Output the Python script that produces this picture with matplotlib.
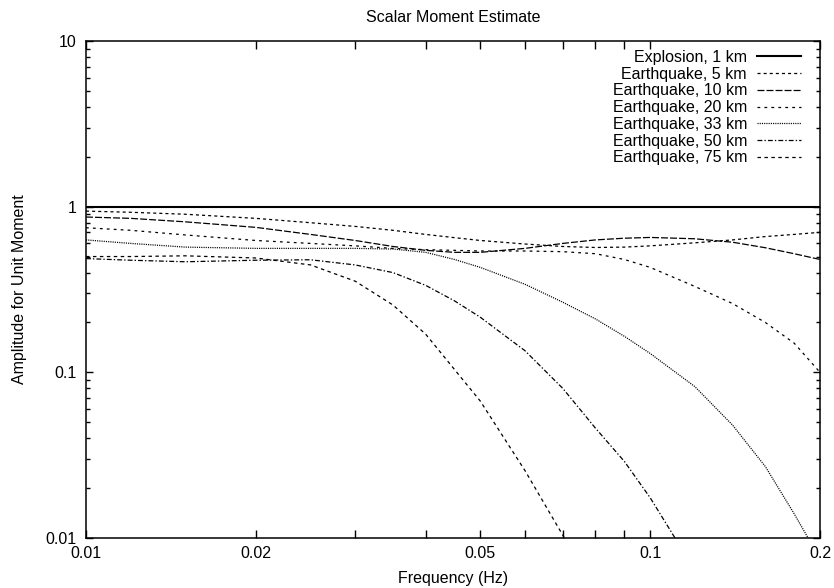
import matplotlib
matplotlib.use("Agg")
import matplotlib.pyplot as plt
from matplotlib.ticker import FixedLocator, NullFormatter

plt.rcParams["font.family"] = ["Liberation Sans", "DejaVu Sans"]
plt.rcParams["font.size"] = 11.5
plt.rcParams["lines.scale_dashes"] = False

# frequency grid (Hz)
freq = [0.01, 0.012, 0.015, 0.02, 0.025, 0.03, 0.035, 0.04, 0.045, 0.05,
        0.06, 0.07, 0.08, 0.09, 0.1, 0.12, 0.14, 0.16, 0.18, 0.2]

explosion_1km = [1.0] * len(freq)
eq_5km = [0.94, 0.925, 0.90, 0.85, 0.80, 0.76, 0.72, 0.68, 0.65, 0.625,
          0.595, 0.575, 0.567, 0.57, 0.58, 0.605, 0.63, 0.66, 0.68, 0.70]
eq_10km = [0.866, 0.85, 0.81, 0.75, 0.68, 0.625, 0.575, 0.545, 0.53, 0.53,
           0.56, 0.60, 0.63, 0.645, 0.652, 0.64, 0.61, 0.565, 0.52, 0.48]
eq_20km = [0.746, 0.72, 0.675, 0.625, 0.60, 0.58, 0.56, 0.55, 0.545, 0.54,
           0.54, 0.535, 0.52, 0.48, 0.43, 0.33, 0.26, 0.20, 0.15, 0.10]
eq_33km = [0.63, 0.60, 0.57, 0.56, 0.56, 0.56, 0.555, 0.53, 0.48, 0.43,
           0.34, 0.265, 0.21, 0.165, 0.13, 0.082, 0.048, 0.027, 0.014, 0.0075]
eq_50km = [0.486, 0.475, 0.465, 0.475, 0.478, 0.445, 0.40, 0.335, 0.27, 0.215,
           0.135, 0.08, 0.046, 0.029, 0.0175, 0.0064]
eq_75km = [0.50, 0.50, 0.505, 0.49, 0.445, 0.355, 0.255, 0.17, 0.104, 0.067,
           0.0255, 0.0104, 0.0048]

labels = ["Explosion, 1 km", "Earthquake, 5 km", "Earthquake, 10 km",
          "Earthquake, 20 km", "Earthquake, 33 km", "Earthquake, 50 km",
          "Earthquake, 75 km"]
series = [explosion_1km, eq_5km, eq_10km, eq_20km, eq_33km, eq_50km, eq_75km]
styles = ["-", (0, (2.2, 2.2)), (0, (5, 1.5)), (0, (2, 3)), (0, (0.8, 0.8)),
          (0, (3.5, 1.5, 1, 1.5)), (0, (2.5, 2.5))]
widths = [1.5, 0.9, 0.9, 0.9, 0.9, 0.9, 0.9]

xticks = [0.01, 0.02, 0.05, 0.1, 0.2]
xtick_labels = ["0.01", "0.02", "0.05", "0.1", "0.2"]
xminor = [0.03, 0.04, 0.06, 0.07, 0.08, 0.09]
yticks = [0.01, 0.1, 1, 10]
ytick_labels = ["0.01", "0.1", "1", "10"]

fig = plt.figure(figsize=(8.34, 5.88), dpi=100)
ax = fig.add_axes([86 / 834, 50 / 588, 734 / 834, 497 / 588])

for vals, lab, ls, lw in zip(series, labels, styles, widths):
    ax.plot(freq[:len(vals)], vals, color="black", linestyle=ls, linewidth=lw, label=lab)

ax.set_xscale("log")
ax.set_yscale("log")
ax.set_xlim(0.01, 0.2)
ax.set_ylim(0.01, 10)

ax.xaxis.set_major_locator(FixedLocator(xticks))
ax.set_xticklabels(xtick_labels)
ax.xaxis.set_minor_locator(FixedLocator(xminor))
ax.xaxis.set_minor_formatter(NullFormatter())
ax.yaxis.set_major_locator(FixedLocator(yticks))
ax.set_yticklabels(ytick_labels)

ax.tick_params(axis="both", which="both", direction="in", top=True, right=True,
               width=1.0, color="black")
ax.tick_params(axis="x", which="both", length=5.5, pad=6)
ax.tick_params(axis="y", which="major", length=5.0, pad=6.5)
ax.tick_params(axis="y", which="minor", length=3.2)
for sp in ax.spines.values():
    sp.set_linewidth(1.1)

ax.set_xlabel("Frequency (Hz)")
ax.xaxis.set_label_coords(0.5, -0.066)
ax.set_ylabel("Amplitude for Unit Moment")
ax.yaxis.set_label_coords(-0.081, 0.5)

fig.text((86 + 820) / 2 / 834, 1 - 17 / 588, "Scalar Moment Estimate",
         ha="center", va="center")

ax.legend(loc="upper right", bbox_to_anchor=(0.974, 0.982), frameon=False,
          markerfirst=False, handlelength=2.75, handletextpad=0.63,
          labelspacing=0.11, borderpad=0, borderaxespad=0)

fig.savefig("out.png", dpi=100)
